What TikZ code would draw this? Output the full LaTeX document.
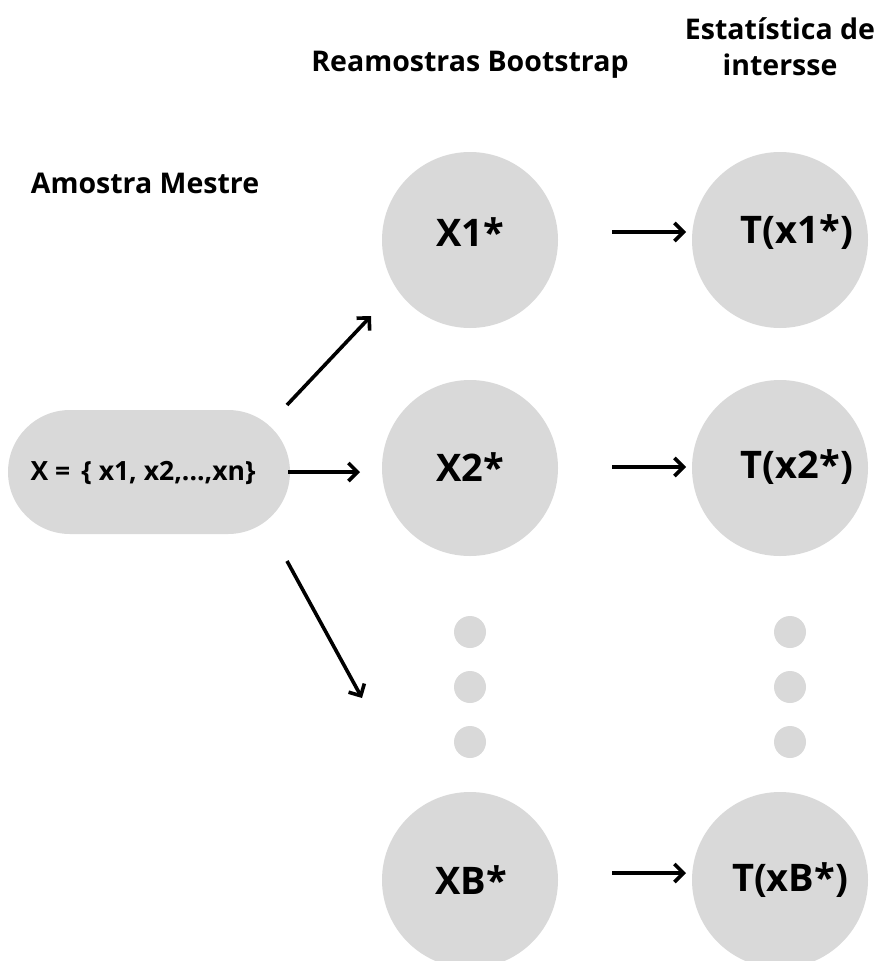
\documentclass[tikz,border=0pt]{standalone}
\usepackage{fontspec}
\setmainfont{Open Sans}
\usetikzlibrary{arrows.meta}
\definecolor{circgrey}{HTML}{D9D9D9}
\tikzset{
  bubble/.style={circle, fill=circgrey, minimum size=176pt, inner sep=0pt},
  dotc/.style={circle, fill=circgrey, minimum size=32pt, inner sep=0pt},
  big/.style={font=\bfseries\fontsize{38}{40}\selectfont},
  head/.style={font=\bfseries\fontsize{28.5}{36}\selectfont, align=center},
  arr/.style={line width=3.6pt, -{Straight Barb[length=9pt,width=18pt,line width=3.6pt]}},
}
\begin{document}
\begin{tikzpicture}[x=1pt,y=-1pt]
\useasboundingbox (0,0) rectangle (887,961);
\begin{scope}
\clip (0,0) rectangle (887,961);
% master sample
\node[fill=circgrey, rounded corners=62pt, minimum width=282pt, minimum height=124pt, inner sep=0pt] (m) at (149,472) {};
\node[font=\bfseries\fontsize{26.5}{30}\selectfont] (mt) at (143,473) {X =\, \{ x1, x2,...,xn\}};
\node[head] (hm) at (145,183) {Amostra Mestre};
\node[head] (hb) at (470,65) {Reamostras Bootstrap};
\node[head] (ht) at (780,47) {Estatística de\\intersse};
% bubbles
\node[bubble] (x1) at (470,240) {};
\node[bubble] (x2) at (470,468) {};
\node[bubble] (xb) at (470,880) {};
\node[bubble] (t1) at (780,240) {};
\node[bubble] (t2) at (780,468) {};
\node[bubble] (tb) at (780,880) {};
\node[big] (lx1) at (470,232) {X1*};
\node[big] (lx2) at (470,467) {X2*};
\node[big] (lxb) at (471,880) {XB*};
\node[big] (lt1) at (797,232) {T(x1*)};
\node[big] (lt2) at (797,467) {T(x2*)};
\node[big] (ltb) at (790,880) {T(xB*)};
% dots
\node[dotc] (d1) at (470,632) {};
\node[dotc] (d2) at (470,687) {};
\node[dotc] (d3) at (470,742) {};
\node[dotc] (e1) at (790,632) {};
\node[dotc] (e2) at (790,687) {};
\node[dotc] (e3) at (790,742) {};
% arrow end points
\coordinate (a1s) at (287,405); \coordinate (a1e) at (371,316);
\coordinate (a2s) at (288,472); \coordinate (a2e) at (360,472);
\coordinate (a3s) at (287,561); \coordinate (a3e) at (362,698);
\coordinate (b1s) at (612,232); \coordinate (b1e) at (686,232);
\coordinate (b2s) at (612,467); \coordinate (b2e) at (686,467);
\coordinate (b3s) at (612,873); \coordinate (b3e) at (686,873);
\draw[arr] (a1s) -- (a1e);
\draw[arr] (a2s) -- (a2e);
\draw[arr] (a3s) -- (a3e);
\draw[arr] (b1s) -- (b1e);
\draw[arr] (b2s) -- (b2e);
\draw[arr] (b3s) -- (b3e);
\end{scope}
\end{tikzpicture}
\end{document}
